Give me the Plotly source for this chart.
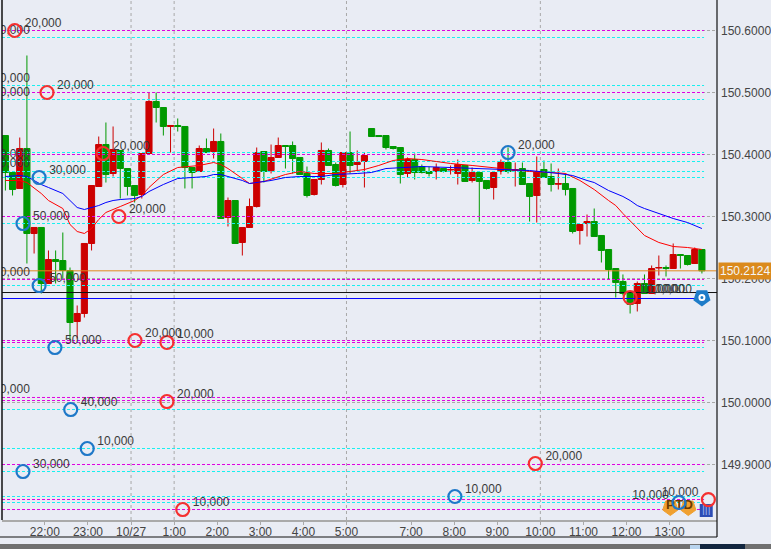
import plotly.graph_objects as go

# ---- candles (bar index = position in lists); green = falling, red = rising
opens = [.4306,.3710,.3452,.4097,.2726,.2823,.1919,.2306,.2290,.2129,.1306,.1436,.2565,.3484,.4161,.3694,.4065,.3774,.3500,.3355,
         .4016,.4855,.4758,.4452,.4468,.4452,.3790,.3726,.4097,.4048,.4210,.2984,.3258,.2581,.2823,.3161,.4048,.3742,.3952,.4145,
         .4145,.3952,.3694,.3355,.3597,.4065,.3839,.3516,.4032,.3839,.3887,.4419,.4306,.4306,.4129,.4113,.3694,.3919,.3806,.3726,
         .3726,.3774,.3750,.3694,.3823,.3581,.3710,.3581,.3468,.3726,.3871,.3742,.3774,.3532,.3339,.3758,.3645,.3520,.3532,.3452,
         .2774,.2887,.2919,.2694,.2468,.2161,.1952,.1758,.1597,.1919,.1758,.2169,.2177,.2161,.2387,.2371,.2242,.2468]
closes = [.3710,.3435,.4097,.2726,.2823,.1919,.2306,.2274,.2129,.1290,.1436,.2565,.3500,.4161,.3677,.4081,.3774,.3484,.3339,.4016,
          .4855,.4758,.4452,.4468,.4452,.3790,.3710,.4097,.4032,.4210,.2968,.3258,.2565,.2823,.3161,.4032,.3726,.3952,.4145,.4129,
          .3935,.3677,.3339,.3597,.4065,.3823,.3500,.4032,.3823,.3871,.3984,.4290,.4290,.4113,.4097,.3677,.3919,.3710,.3710,.3694,
          .3790,.3726,.3758,.3839,.3565,.3710,.3565,.3452,.3710,.3871,.3726,.3758,.3516,.3323,.3726,.3629,.3516,.3532,.3435,.2758,
          .2871,.2919,.2677,.2452,.2145,.1935,.1758,.1581,.1919,.1758,.2161,.2177,.2161,.2387,.2371,.2226,.2468,.2124]
highs = [.4306,.3710,.4274,.5597,.2823,.2823,.2452,.2452,.2742,.2177,.1565,.2565,.3500,.4290,.4516,.4452,.4065,.3774,.3500,.4016,
         .5000,.5000,.4758,.4468,.4581,.4452,.3790,.4145,.4258,.4419,.4339,.3306,.3258,.2823,.3290,.4113,.4048,.4161,.4274,.4145,
         .4210,.3952,.3806,.3597,.4194,.4097,.3871,.4032,.4371,.4065,.4032,.4419,.4306,.4306,.4129,.4113,.3952,.4016,.3839,.3806,
         .3855,.3774,.3823,.3919,.3823,.3790,.3710,.3581,.3710,.3919,.4113,.3871,.3871,.3532,.3968,.3903,.3855,.3774,.3694,.3452,
         .2871,.3032,.3129,.2694,.2468,.2161,.2065,.1758,.1952,.2065,.2210,.2371,.2210,.2565,.2387,.2371,.2500,.2468]
lows = [.3419,.3339,.3452,.2242,.2403,.1758,.1919,.1919,.2000,.1000,.1032,.1371,.2452,.3484,.3548,.3645,.3290,.3339,.3226,.3290,
        .4016,.4516,.4306,.4032,.4371,.3452,.3452,.3726,.4032,.3935,.2968,.2839,.2565,.2371,.2823,.3145,.3548,.3694,.3952,.3774,
        .3694,.3677,.3306,.3339,.3516,.3823,.3484,.3468,.3694,.3742,.3468,.4290,.4290,.4081,.4081,.3532,.3629,.3597,.3694,.3645,
        .3597,.3710,.3677,.3516,.3565,.3548,.2919,.3435,.3274,.3677,.3694,.3484,.3516,.2919,.2903,.3629,.3403,.3435,.3339,.2726,
        .2548,.2677,.2677,.2258,.1984,.1694,.1726,.1435,.1468,.1758,.1758,.2048,.2032,.2161,.2161,.2210,.2242,.2081]
base = 150.0

# ---- moving averages: bar index and level as read
blue_idx = [0,2,3,5,6,8,9,10,11,12,13,14,15,16,18,19,20,22,23,24,26,28,29,30,31,33,34,35,37,39,41,44,46,49,51,53,55,58,62,66,70,73,77,79,81,82,84,85,86,87,88,89,91,93,95,97]
blue_ma = [.3645,.3661,.3645,.3516,.3468,.3371,.3258,.3145,.3113,.3145,.3177,.3226,.3258,.3274,.3290,.3323,.3403,.3516,.3565,.3613,.3629,.3645,.3677,.3677,.3645,.3581,.3532,.3548,.3581,.3629,.3645,.3645,.3677,.3694,.3710,.3774,.3790,.3806,.3790,.3774,.3758,.3742,.3694,.3661,.3581,.3548,.3419,.3371,.3323,.3258,.3177,.3129,.3048,.2968,.2903,.2806]
red_idx = [0,2,3,5,6,8,9,10,11,12,13,14,16,18,19,20,22,24,27,29,30,31,33,34,36,39,41,43,46,48,50,52,54,56,58,60,62,65,68,70,73,76,78,80,82,84,85,86,87,89,91,93,95,97]
red_ma = [.3581,.3581,.3548,.3371,.3258,.3129,.2871,.2758,.2726,.2806,.2952,.3065,.3161,.3258,.3339,.3468,.3677,.3790,.3823,.3871,.3839,.3774,.3613,.3532,.3565,.3677,.3726,.3694,.3694,.3726,.3758,.3823,.3903,.3935,.3919,.3887,.3855,.3823,.3790,.3758,.3726,.3710,.3694,.3581,.3435,.3258,.3177,.3048,.2935,.2694,.2581,.2516,.2500,.2468]

# ---- horizontal order levels
magenta_levels = [150.6,150.5,150.4,150.3,150.1984,150.1,150.0968,150.0081,150.0032,149.9,149.8435,149.8274]
cyan_levels = [150.5887,150.5113,150.4887,150.4032,150.3887,150.3726,150.3629,150.2887,150.1887,150.0887,149.9887,149.9258,149.8887,149.8484,149.8387]
last_price = 150.2124
black_level = 150.1774
blue_level = 150.1677

# ---- order circles
red_x = [1.3,5.8,13.6,15.8,18.05,22.5,22.5,24.7,73.8,87.0]
red_y = [150.6,150.5,150.4016,150.3,150.1,150.0968,150.0016,149.8274,149.9016,150.1694]
red_text = ["20,000","20,000","20,000","20,000","20,000","10,000","20,000","10,000","20,000","10,000"]
blue_x = [4.7,2.45,4.7,6.9,9.1,11.4,2.45,62.6,70.0]
blue_y = [150.3629,150.2887,150.1887,150.0887,149.9887,149.9258,149.8887,149.8484,150.4032]
blue_text = ["30,000","50,000","50,000","50,000","40,000","10,000","30,000","10,000","20,000"]
left_x = [-3.1]*7
left_y = [150.5887,150.5113,150.4887,150.3887,150.3726,150.1968,150.0081]
left_text = ["20,000"]*7
tl_x = [97.9,93.8]
tl_y = [149.8435,149.8387]
tl_text = ["10,000","10,000"]
extra_x = [88.1,89.1]
extra_y = [150.1694,150.1694]
extra_text = ["10,000","10,000"]

# ---- time axis
tick_idx = [5.5,11.5,17.5,23.5,29.5,35.5,41.5,47.5,56.5,62.5,68.5,74.5,80.5,86.5,92.5]
tick_text = ["22:00","23:00","10/27","1:00","2:00","3:00","4:00","5:00","7:00","8:00","9:00","10:00","11:00","12:00","13:00"]
vlines = [17.5,23.5,47.5,74.5]
price_ticks = [150.6,150.5,150.4,150.3,150.2,150.1,150.0,149.9]

FONT = "Liberation Sans"
BG = "#E9ECF4"
X0, X1 = -0.47, 99.1
Y1 = 150.6492
Y0 = Y1 - 520/620
LABEL_DY = 7/620   # label sits 7 px above its circle
LABEL_DX = 1.4     # and about 10 px beside it

fig = go.Figure()
idx = list(range(len(opens)))
fig.add_trace(go.Candlestick(
    x=idx,
    open=[base+v for v in opens], high=[base+v for v in highs],
    low=[base+v for v in lows], close=[base+v for v in closes],
    increasing=dict(line=dict(color="#CC0000", width=1), fillcolor="#CC0000"),
    decreasing=dict(line=dict(color="#009900", width=1), fillcolor="#009900"),
    whiskerwidth=0, showlegend=False, hoverinfo="skip"))

def hline(level, color, dash, x_end=97.3, width=1):
    fig.add_trace(go.Scatter(x=[X0, x_end], y=[level, level], mode="lines",
                             line=dict(color=color, width=width, dash=dash),
                             showlegend=False, hoverinfo="skip"))

for v in magenta_levels:
    hline(v, "#E000E0", "3px,2px")
for v in cyan_levels:
    hline(v, "#19F0F0", "3px,2px")
hline(last_price, "#E08A1E", "solid", 99.0)
hline(black_level, "#111111", "solid", 99.1)
hline(blue_level, "#0000FF", "solid", 96.0)

fig.add_trace(go.Scatter(x=red_idx, y=[base+v for v in red_ma], mode="lines",
                         line=dict(color="#FF0000", width=1), showlegend=False, hoverinfo="skip"))
fig.add_trace(go.Scatter(x=blue_idx, y=[base+v for v in blue_ma], mode="lines",
                         line=dict(color="#0000FF", width=1), showlegend=False, hoverinfo="skip"))

# icons
fig.add_trace(go.Scatter(x=[92.6,95.1], y=[149.8306,149.8306], mode="markers",
                         marker=dict(symbol="pentagon", angle=180, size=16, color="#F0A030",
                                     line=dict(color="#F0A030", width=1)),
                         showlegend=False, hoverinfo="skip"))
fig.add_trace(go.Scatter(x=[92.6,93.85,95.1], y=[149.8338,149.8338,149.8338], mode="text",
                         text=["<b>P</b>","<b>T</b>","<b>D</b>"], textposition="middle center",
                         textfont=dict(family=FONT, size=13, color="#6B3A00"),
                         showlegend=False, hoverinfo="skip"))
fig.add_trace(go.Scatter(x=[97.6], y=[149.8258], mode="markers",
                         marker=dict(symbol="square", size=13, color="#2C4DB5"),
                         showlegend=False, hoverinfo="skip"))
fig.add_trace(go.Scatter(x=[97.6], y=[149.8258], mode="text", text=["|||"], textposition="middle center",
                         textfont=dict(family=FONT, size=11, color="#9FB4EE"),
                         showlegend=False, hoverinfo="skip"))
fig.add_trace(go.Scatter(x=[97.0], y=[150.1694], mode="markers",
                         marker=dict(symbol="pentagon", angle=180, size=18, color="#1E7CC8"),
                         showlegend=False, hoverinfo="skip"))
fig.add_trace(go.Scatter(x=[97.0], y=[150.1694], mode="markers",
                         marker=dict(symbol="circle", size=5, color="#1E7CC8",
                                     line=dict(color="white", width=2)),
                         showlegend=False, hoverinfo="skip"))

def labels(xs, ys, texts, side=1):
    fig.add_trace(go.Scatter(x=[v + side*LABEL_DX for v in xs], y=[v + LABEL_DY for v in ys],
                             mode="text", text=texts,
                             textposition="middle right" if side > 0 else "middle left",
                             textfont=dict(family=FONT, size=12, color="#3A3A3A"),
                             cliponaxis=True, showlegend=False, hoverinfo="skip"))

def circles(xs, ys, texts, color, side=1):
    fig.add_trace(go.Scatter(x=xs, y=ys, mode="markers",
                             marker=dict(symbol="circle-open", size=13, color=color,
                                         line=dict(color=color, width=2.2)),
                             cliponaxis=True, showlegend=False, hoverinfo="skip"))
    labels(xs, ys, texts, side)

circles(left_x, left_y, left_text, "#1E78C8")
circles(red_x, red_y, red_text, "#F53030")
circles(blue_x, blue_y, blue_text, "#1E78C8")
circles(tl_x[:1], tl_y[:1], tl_text[:1], "#F53030", -1)
circles(tl_x[1:], tl_y[1:], tl_text[1:], "#1E78C8", -1)
labels(extra_x, extra_y, extra_text)

px = lambda v: (v - 2) / 715
py = lambda v: (520 - v) / 520
shapes = [dict(type="line", xref="x", yref="paper", x0=v, x1=v, y0=0, y1=1, layer="below",
               line=dict(color="#A8A8A8", width=1, dash="3px,3px")) for v in vlines]
shapes += [
    dict(type="line", xref="paper", yref="paper", x0=px(2), x1=px(2), y0=0, y1=1, line=dict(color="#111", width=1.5)),
    dict(type="line", xref="paper", yref="paper", x0=px(717), x1=px(717), y0=py(537), y1=1, line=dict(color="#111", width=1.2)),
    dict(type="line", xref="paper", yref="paper", x0=px(0), x1=px(717), y0=py(537), y1=py(537), line=dict(color="#111", width=1)),
    dict(type="rect", xref="paper", yref="paper", x0=px(0), x1=px(771), y0=py(549), y1=py(544), fillcolor="#707070", line=dict(width=0)),
    dict(type="rect", xref="paper", yref="paper", x0=px(700), x1=px(745), y0=py(549), y1=py(544), fillcolor="#12263F", line=dict(width=0)),
    dict(type="rect", xref="paper", yref="paper", x0=px(690), x1=px(700), y0=py(549), y1=py(545), fillcolor="#B9D4EE", line=dict(width=0)),
]

fig.update_layout(
    width=771, height=549, margin=dict(l=2, r=54, t=0, b=29),
    paper_bgcolor=BG, plot_bgcolor=BG, showlegend=False, boxgap=0.15, boxgroupgap=0.0, shapes=shapes,
    font=dict(family=FONT, size=12, color="#444444"),
    xaxis=dict(range=[X0, X1], rangeslider=dict(visible=False), tickmode="array",
               tickvals=tick_idx, ticktext=tick_text, ticks="outside", ticklen=3, tickcolor="#AAAAAA",
               ticklabelstandoff=-3,
               showgrid=False, zeroline=False, showline=True, linecolor="#AAAAAA", linewidth=1.5,
               tickfont=dict(family=FONT, size=12, color="#444444")),
    yaxis=dict(range=[Y0, Y1], side="right", tickmode="array", tickvals=price_ticks,
               tickformat=".4f", ticks="", showgrid=True, gridcolor="#A8A8A8", griddash="3px,2px", gridwidth=1,
               ticklabelstandoff=3,
               zeroline=False, showline=False, tickfont=dict(family=FONT, size=12, color="#444444")),
    annotations=[dict(xref="paper", yref="y", x=px(718), y=last_price, xanchor="left", yanchor="middle",
                      text="150.2124", showarrow=False, bgcolor="#DB8A1C", borderpad=1,
                      font=dict(family=FONT, size=12, color="#F5F5F5"))],
)
fig.write_html("out.html", config=dict(displayModeBar=False),
               post_script="document.body.style.margin='0';document.documentElement.style.overflow='hidden';")
